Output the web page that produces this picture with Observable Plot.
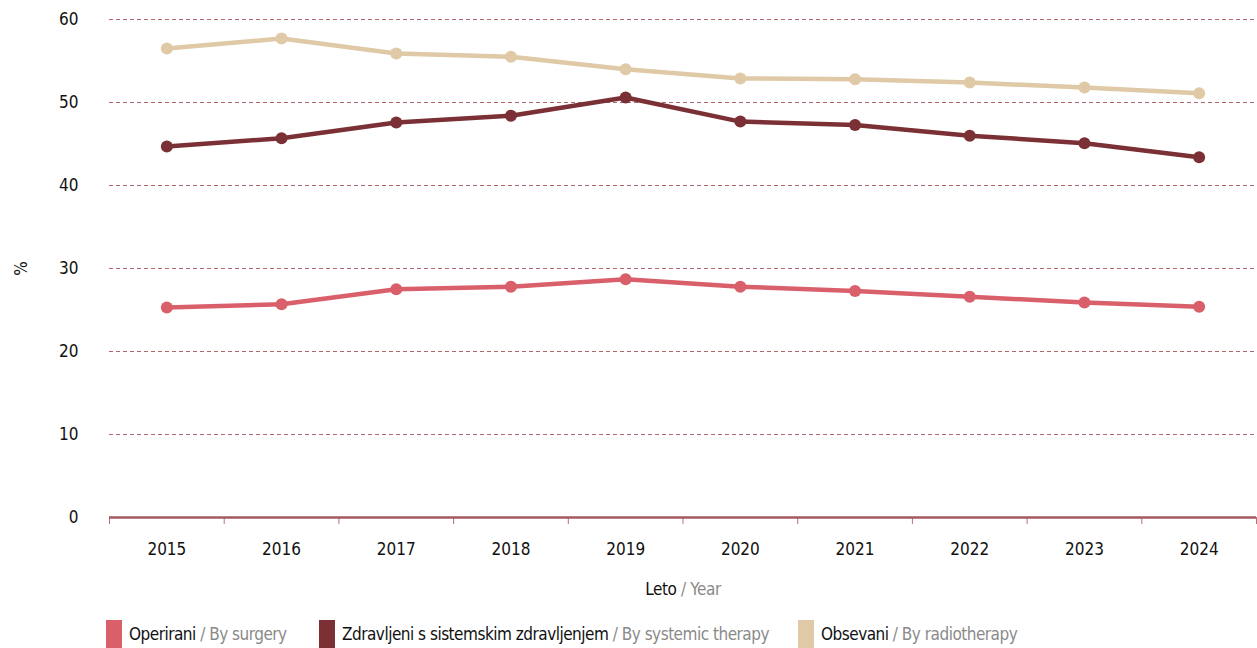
<!DOCTYPE html>
<html>
<head>
<meta charset="utf-8">
<script src="https://cdn.jsdelivr.net/npm/d3@7"></script>
<script src="https://cdn.jsdelivr.net/npm/@observablehq/plot@0.6"></script>
<style>
  body { margin: 0; background: #fff; font-family: "DejaVu Sans Condensed", "DejaVu Sans", sans-serif; font-stretch: condensed; }
  #wrap { position: relative; width: 1257px; height: 648px; overflow: hidden; }
  #xlabel { position: absolute; left: 0; width: 1257px; top: 579px; text-align: center; padding-left: 109px; box-sizing: border-box; font-size: 17px; color: #111; letter-spacing: -0.4px; white-space: nowrap; }
  .item { position: absolute; top: 620px; display: flex; align-items: center; white-space: nowrap; font-size: 17px; color: #111; letter-spacing: -0.5px; }
  .sw { width: 16px; height: 28px; margin-right: 7px; flex: none; }
  .gray { color: #8a8a8a; }
  svg text { font-stretch: condensed; }
</style>
</head>
<body>
<div id="wrap">
  <div id="chart"></div>
  <div id="xlabel">Leto <span class="gray">/ Year</span></div>
</div>
<script>
const years = [2015, 2016, 2017, 2018, 2019, 2020, 2021, 2022, 2023, 2024];
const surgery = [25.3, 25.7, 27.5, 27.8, 28.7, 27.8, 27.3, 26.6, 25.9, 25.4];
const systemic = [44.7, 45.7, 47.6, 48.4, 50.6, 47.7, 47.3, 46.0, 45.1, 43.4];
const radiotherapy = [56.5, 57.7, 55.9, 55.5, 54.0, 52.9, 52.8, 52.4, 51.8, 51.1];
const seriesNames = ["Operirani", "Zdravljeni s sistemskim zdravljenjem", "Obsevani"];
const seriesEn = ["/ By surgery", "/ By systemic therapy", "/ By radiotherapy"];
const seriesColors = ["#d95f6a", "#7a3035", "#dfc9a6"];
const yTicks = [0, 10, 20, 30, 40, 50, 60];

const seriesValues = [surgery, systemic, radiotherapy];
const data = [];
seriesValues.forEach((vals, i) => vals.forEach((v, j) => data.push({year: years[j], value: v, series: seriesNames[i]})));

const boundaries = d3.range(years[0] - 0.5, years[years.length - 1] + 1, 1);
const axisColor = "#a4585f";
const fontStack = '"DejaVu Sans Condensed", "DejaVu Sans", sans-serif';

const chart = Plot.plot({
  width: 1257,
  height: 575,
  marginLeft: 109,
  marginRight: 1,
  marginTop: 19,
  marginBottom: 58,
  style: { fontFamily: fontStack, fontSize: "17px", color: "#111", background: "#fff" },
  x: { domain: [years[0] - 0.5, years[years.length - 1] + 0.5] },
  y: { domain: [0, 60] },
  color: { domain: seriesNames, range: seriesColors },
  marks: [
    Plot.gridY(yTicks.filter(d => d > 0), { stroke: "#b0666e", strokeOpacity: 1, strokeDasharray: "4,3", strokeWidth: 1 }),
    Plot.axisY(yTicks, { tickSize: 0, tickPadding: 31, label: "%", labelAnchor: "center", labelArrow: "none", labelOffset: 95, fontSize: 17 }),
    Plot.axisX(boundaries, { tickSize: 7, tickFormat: () => "", stroke: "#b87078", label: null }),
    Plot.axisX(years, { tickSize: 0, tickPadding: 25, tickFormat: d => String(d), label: null, fontSize: 17 }),
    Plot.ruleY([0], { stroke: axisColor, strokeWidth: 2.5 }),
    Plot.line(data, { x: "year", y: "value", z: "series", stroke: "series", strokeWidth: 4.5 }),
    Plot.dot(data, { x: "year", y: "value", fill: "series", r: 6 })
  ]
});
document.getElementById("chart").appendChild(chart);

const wrap = document.getElementById("wrap");
const lefts = [106, 319, 798];
seriesNames.forEach((name, i) => {
  const item = document.createElement("div");
  item.className = "item";
  item.style.left = lefts[i] + "px";
  item.innerHTML = `<div class="sw" style="background:${seriesColors[i]}"></div><span>${name} <span class="gray">${seriesEn[i]}</span></span>`;
  wrap.appendChild(item);
});
</script>
</body>
</html>
